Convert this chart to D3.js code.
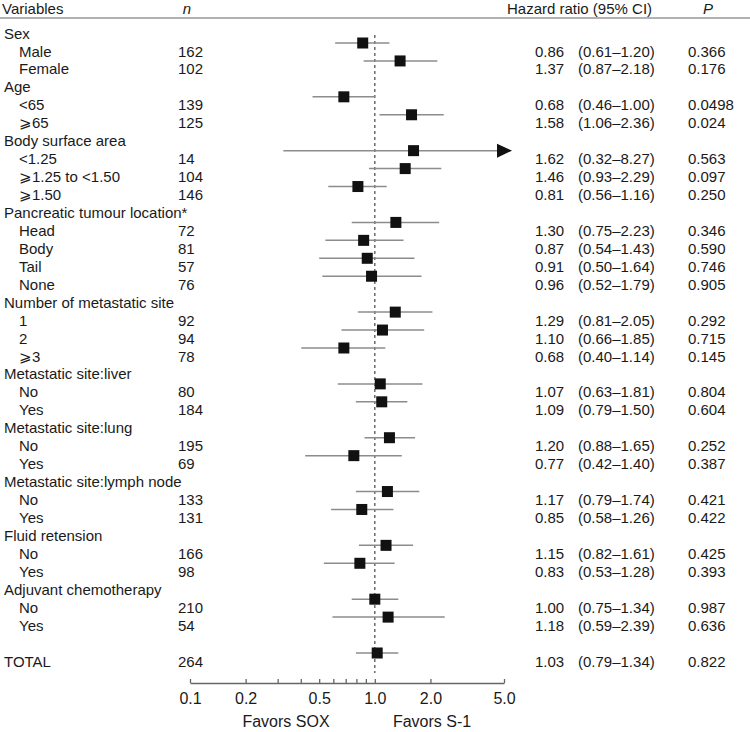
<!DOCTYPE html>
<html>
<head>
<meta charset="utf-8">
<script src="https://cdn.jsdelivr.net/npm/d3@7/dist/d3.min.js"></script>
<style>
  html, body { margin: 0; padding: 0; background: #fff; }
  svg { display: block; }
  text { font-family: "Liberation Sans", Arial, Helvetica, sans-serif; fill: #1a1a1a; }
</style>
</head>
<body>
<svg id="chart" width="750" height="732"></svg>
<script>
// ---- Data ----
const labels = ["Sex", "Male", "Female",
  "Age", "<65", "\u2a7e65",
  "Body surface area", "<1.25", "\u2a7e1.25 to <1.50", "\u2a7e1.50",
  "Pancreatic tumour location*", "Head", "Body", "Tail", "None",
  "Number of metastatic site", "1", "2", "\u2a7e3",
  "Metastatic site:liver", "No", "Yes",
  "Metastatic site:lung", "No", "Yes",
  "Metastatic site:lymph node", "No", "Yes",
  "Fluid retension", "No", "Yes",
  "Adjuvant chemotherapy", "No", "Yes",
  "", "TOTAL"];
const isHeader = [1,0,0, 1,0,0, 1,0,0,0, 1,0,0,0,0, 1,0,0,0, 1,0,0, 1,0,0, 1,0,0, 1,0,0, 1,0,0, 0,1];
const nValues = [null,162,102, null,139,125, null,14,104,146, null,72,81,57,76, null,92,94,78,
  null,80,184, null,195,69, null,133,131, null,166,98, null,210,54, null,264];
const hr = [null,0.86,1.37, null,0.68,1.58, null,1.62,1.46,0.81, null,1.30,0.87,0.91,0.96, null,1.29,1.10,0.68,
  null,1.07,1.09, null,1.20,0.77, null,1.17,0.85, null,1.15,0.83, null,1.00,1.18, null,1.03];
const ciLow = [null,0.61,0.87, null,0.46,1.06, null,0.32,0.93,0.56, null,0.75,0.54,0.50,0.52, null,0.81,0.66,0.40,
  null,0.63,0.79, null,0.88,0.42, null,0.79,0.58, null,0.82,0.53, null,0.75,0.59, null,0.79];
const ciHigh = [null,1.20,2.18, null,1.00,2.36, null,8.27,2.29,1.16, null,2.23,1.43,1.64,1.79, null,2.05,1.85,1.14,
  null,1.81,1.50, null,1.65,1.40, null,1.74,1.26, null,1.61,1.28, null,1.34,2.39, null,1.34];
const pValues = [null,"0.366","0.176", null,"0.0498","0.024", null,"0.563","0.097","0.250",
  null,"0.346","0.590","0.746","0.905", null,"0.292","0.715","0.145",
  null,"0.804","0.604", null,"0.252","0.387", null,"0.421","0.422", null,"0.425","0.393",
  null,"0.987","0.636", null,"0.822"];
const majorTicks = [0.1, 0.2, 0.5, 1.0, 2.0, 5.0];
const minorTicks = [0.3, 0.4, 0.6, 0.7, 0.8, 0.9];
const headers = {variables: "Variables", n: "n", hr: "Hazard ratio (95% CI)", p: "P"};
const favorLeft = "Favors SOX", favorRight = "Favors S-1";

// ---- Layout ----
const svg = d3.select("#chart");
const FS = "15px", FS_AX = "16px";
const x = d3.scaleLog().domain([0.1, 5]).range([190, 504]);
const y = d3.scaleLinear().domain([0, labels.length - 1]).range([25.06, 653]);
const textOff = 13.5;
const rows = labels.map((l, i) => ({i, label: l, head: isHeader[i], n: nValues[i],
  hr: hr[i], lo: ciLow[i], hi: ciHigh[i], p: pValues[i]}));
const fmt2 = d3.format(".2f");

// header
const hdrY = 13.5;
svg.append("text").attr("x", 2).attr("y", hdrY).style("font-size", FS).text(headers.variables);
svg.append("text").attr("x", 187).attr("y", hdrY).attr("text-anchor", "middle")
  .style("font-size", FS).style("font-style", "italic").text(headers.n);
svg.append("text").attr("x", 507).attr("y", hdrY).style("font-size", FS).text(headers.hr);
svg.append("text").attr("x", 708).attr("y", hdrY).attr("text-anchor", "middle")
  .style("font-size", FS).style("font-style", "italic").text(headers.p);
svg.append("line").attr("x1", 0).attr("x2", 750).attr("y1", 18).attr("y2", 18)
  .attr("stroke", "#999").attr("stroke-width", 1.5);

// reference dashed line
svg.append("line").attr("x1", x(1)).attr("x2", x(1)).attr("y1", 35).attr("y2", 673)
  .attr("stroke", "#555").attr("stroke-width", 1.3).attr("stroke-dasharray", "3,3");

// text columns
const tg = svg.append("g").style("font-size", FS);
tg.selectAll("text.lab").data(rows).join("text").attr("class", "lab")
  .attr("x", d => d.head ? 4 : 19).attr("y", d => y(d.i) + textOff).text(d => d.label);
const dataRows = rows.filter(d => d.hr != null);
tg.selectAll("text.n").data(dataRows).join("text").attr("class", "n")
  .attr("x", 178).attr("y", d => y(d.i) + textOff).text(d => d.n);
tg.selectAll("text.hr").data(dataRows).join("text").attr("class", "hr")
  .attr("x", 535).attr("y", d => y(d.i) + textOff).text(d => fmt2(d.hr));
tg.selectAll("text.ci").data(dataRows).join("text").attr("class", "ci")
  .attr("x", 578).attr("y", d => y(d.i) + textOff).text(d => "(" + fmt2(d.lo) + "\u2013" + fmt2(d.hi) + ")");
tg.selectAll("text.p").data(dataRows).join("text").attr("class", "p")
  .attr("x", 688).attr("y", d => y(d.i) + textOff).text(d => d.p);

// CI lines
const xmax = x.domain()[1];
const pg = svg.append("g");
pg.selectAll("line.ci").data(dataRows).join("line").attr("class", "ci")
  .attr("x1", d => x(d.lo)).attr("x2", d => d.hi > xmax ? x(xmax) - 7 : x(d.hi))
  .attr("y1", d => y(d.i)).attr("y2", d => y(d.i))
  .attr("stroke", "#8c8c8c").attr("stroke-width", 1.5);
// arrows for truncated CIs
pg.selectAll("path.arrow").data(dataRows.filter(d => d.hi > xmax)).join("path").attr("class", "arrow")
  .attr("d", d => { const xb = x(xmax) - 7, yy = y(d.i);
    return `M${xb},${yy - 7}L${xb + 15},${yy}L${xb},${yy + 7}Z`; })
  .attr("fill", "#111");
// squares
const sq = 11;
pg.selectAll("rect.pt").data(dataRows).join("rect").attr("class", "pt")
  .attr("x", d => x(d.hr) - sq / 2).attr("y", d => y(d.i) - sq / 2)
  .attr("width", sq).attr("height", sq).attr("fill", "#111");

// axis
const axisY = 683;
const ag = svg.append("g").attr("transform", `translate(0,${axisY})`);
ag.call(d3.axisBottom(x).tickValues(majorTicks).tickFormat(d3.format(".1f"))
  .tickSizeInner(-4).tickSizeOuter(0).tickPadding(10));
ag.selectAll(".tick.minor").data(minorTicks).join("line").attr("class", "tick minor")
  .attr("x1", d => x(d)).attr("x2", d => x(d)).attr("y1", 0).attr("y2", -4)
  .attr("stroke", "#666").attr("stroke-width", 1.3);
ag.select(".domain").attr("stroke", "#666").attr("stroke-width", 1.5);
ag.selectAll(".tick line").attr("stroke", "#666").attr("stroke-width", 1.3);
ag.selectAll(".tick text").style("font-size", FS_AX).style("font-family", "'Liberation Sans', Arial, sans-serif")
  .attr("fill", "#1a1a1a");

svg.append("text").attr("x", 286).attr("y", 727).attr("text-anchor", "middle")
  .style("font-size", FS_AX).text(favorLeft);
svg.append("text").attr("x", 432).attr("y", 727).attr("text-anchor", "middle")
  .style("font-size", FS_AX).text(favorRight);
</script>
</body>
</html>
